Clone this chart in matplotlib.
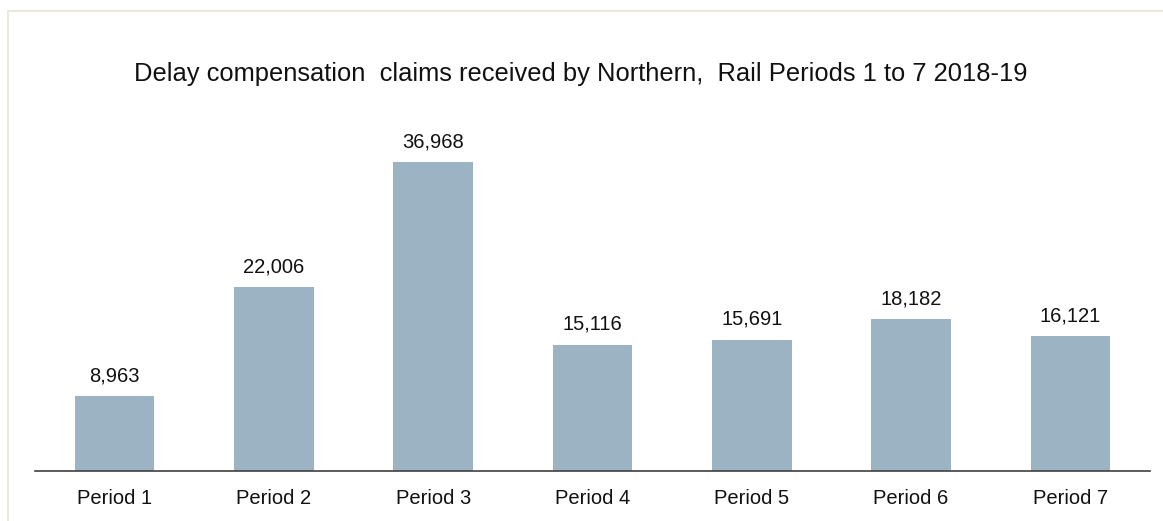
import matplotlib.pyplot as plt
from matplotlib.patches import Rectangle

periods = ['Period 1', 'Period 2', 'Period 3', 'Period 4', 'Period 5', 'Period 6', 'Period 7']
claims = [8963, 22006, 36968, 15116, 15691, 18182, 16121]

plt.rcParams['font.family'] = ['Liberation Sans', 'DejaVu Sans']

W, H = 1163, 521
fig = plt.figure(figsize=(W / 100, H / 100), dpi=100)

# light frame round the chart
fig.patches.append(Rectangle((8 / W, -0.1), 1.2, 1 - 11 / H + 0.1, transform=fig.transFigure,
                             fill=False, edgecolor='#ebe9dc', lw=1.5))

ax = fig.add_axes([35 / W, (H - 471) / H, (1150 - 35) / W, (471 - 110) / H])
x = range(len(periods))
bars = ax.bar(x, claims, width=0.5, color='#9bb3c2')
for xi, v in zip(x, claims):
    ax.text(xi, v + 1300, f'{v:,}', ha='center', va='bottom', fontsize=14.5, color='#111111')

ax.set_xlim(-0.5, 6.5)
ax.set_ylim(0, 43190)
ax.set_xticks(list(x))
ax.set_xticklabels(periods, fontsize=14.5, color='#111111')
ax.tick_params(axis='x', length=0, pad=13)
ax.set_yticks([])
for s in ['top', 'right', 'left']:
    ax.spines[s].set_visible(False)
ax.spines['bottom'].set_color('#404040')
ax.spines['bottom'].set_linewidth(1.2)

fig.text(581 / W, 1 - 74 / H, 'Delay compensation  claims received by Northern,  Rail Periods 1 to 7 2018-19',
         ha='center', va='center', fontsize=18.4, color='#111111')

fig.savefig('out.png', dpi=100)
